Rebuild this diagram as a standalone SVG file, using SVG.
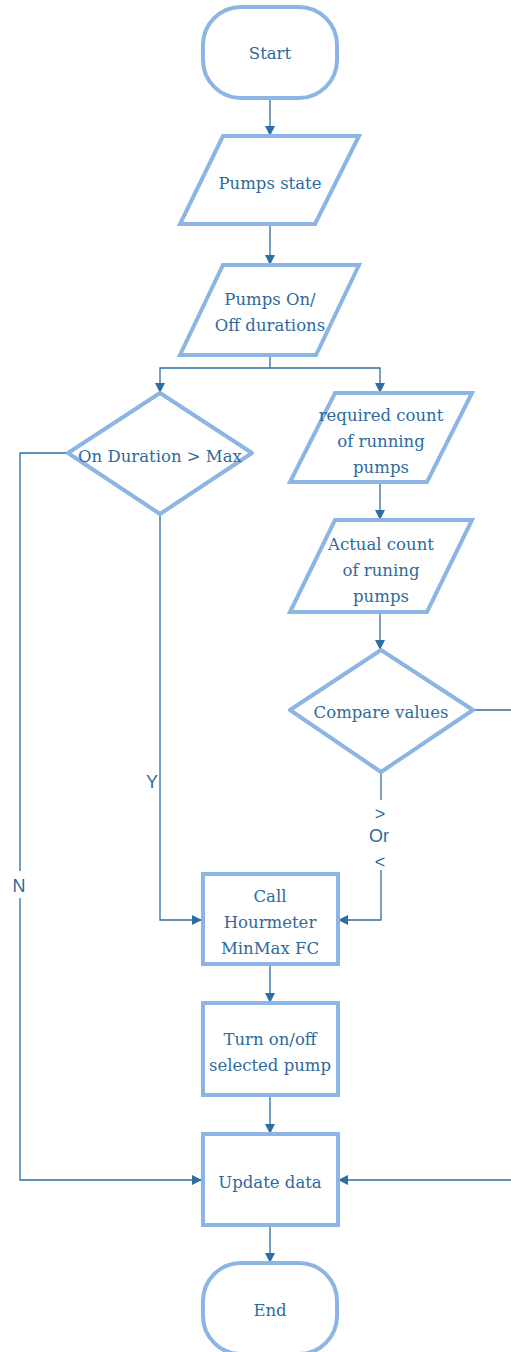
<svg xmlns="http://www.w3.org/2000/svg" width="511" height="1352" viewBox="0 0 511 1352">
  <defs>
    <marker id="arrow" viewBox="0 0 10 10" refX="10" refY="5" markerWidth="10" markerHeight="10" markerUnits="userSpaceOnUse" orient="auto">
      <path d="M0,0 L10,5 L0,10 z" fill="#2E6EA3"/>
    </marker>
    <style>
      .shape { fill: #ffffff; stroke: #8DB5E3; stroke-width: 4; stroke-linejoin: round; }
      .box { fill: #ffffff; stroke: #8DB5E3; stroke-width: 4; stroke-linejoin: miter; }
      .label { font-family: "DejaVu Serif", "Liberation Serif", serif; font-size: 16.5px; fill: #2E6A9C; text-anchor: middle; }
      .edge { fill: none; stroke: #2E6EA3; stroke-width: 1.3; }
      .edge-label { font-family: "Liberation Sans", "DejaVu Sans", sans-serif; font-size: 18px; fill: #2E6A9C; text-anchor: middle; }
    </style>
  </defs>
  <rect width="511" height="1352" fill="#ffffff"/>

  <g id="connectors">
    <path class="edge" d="M270,98 V136" marker-end="url(#arrow)"/>
    <path class="edge" d="M270,224 V265" marker-end="url(#arrow)"/>
    <path class="edge" d="M270,355 V368"/>
    <path class="edge" d="M270,368 H160 V393" marker-end="url(#arrow)"/>
    <path class="edge" d="M270,368 H380 V393" marker-end="url(#arrow)"/>
    <path class="edge" d="M68,453 H20 V871"/>
    <path class="edge" d="M20,898 V1180 H202" marker-end="url(#arrow)"/>
    <path class="edge" d="M160,514 V920 H202" marker-end="url(#arrow)"/>
    <path class="edge" d="M380,482 V520" marker-end="url(#arrow)"/>
    <path class="edge" d="M380,612 V650" marker-end="url(#arrow)"/>
    <path class="edge" d="M381,772 V800"/>
    <path class="edge" d="M381,870 V920 H338" marker-end="url(#arrow)"/>
    <path class="edge" d="M473,710 H520 V1180 H338" marker-end="url(#arrow)"/>
    <path class="edge" d="M270,964 V1003" marker-end="url(#arrow)"/>
    <path class="edge" d="M270,1095 V1134" marker-end="url(#arrow)"/>
    <path class="edge" d="M270,1225 V1263" marker-end="url(#arrow)"/>
    <text class="edge-label" x="152" y="788">Y</text>
    <text class="edge-label" x="19" y="892">N</text>
    <text class="edge-label" x="380" y="820">&gt;</text>
    <text class="edge-label" x="379" y="842">Or</text>
    <text class="edge-label" x="380" y="868">&lt;</text>
  </g>

  <g id="start">
    <rect class="shape" x="203" y="7" width="134" height="91" rx="38" ry="38"/>
    <text class="label" x="270" y="59">Start</text>
  </g>

  <g id="pumps-state">
    <polygon class="box" points="223,136 359,136 315,224 180,224"/>
    <text class="label" x="270" y="189">Pumps state</text>
  </g>

  <g id="pumps-durations">
    <polygon class="box" points="223,265 359,265 316,355 180,355"/>
    <text class="label" x="270" y="305">Pumps On/</text>
    <text class="label" x="270" y="331">Off durations</text>
  </g>

  <g id="on-duration-check">
    <polygon class="shape" points="160,393 252,453 160,514 68,453"/>
    <text class="label" x="160" y="462">On Duration &gt; Max</text>
  </g>

  <g id="required-count">
    <polygon class="box" points="335,393 472,393 427,482 290,482"/>
    <text class="label" x="381" y="421">required count</text>
    <text class="label" x="381" y="447">of running</text>
    <text class="label" x="381" y="473">pumps</text>
  </g>

  <g id="actual-count">
    <polygon class="box" points="335,520 472,520 427,612 290,612"/>
    <text class="label" x="381" y="550">Actual count</text>
    <text class="label" x="381" y="576">of runing</text>
    <text class="label" x="381" y="602">pumps</text>
  </g>

  <g id="compare-values">
    <polygon class="shape" points="381,650 473,710 381,772 290,710"/>
    <text class="label" x="381" y="718">Compare values</text>
  </g>

  <g id="call-hourmeter">
    <rect class="box" x="203" y="874" width="135" height="90"/>
    <text class="label" x="270" y="902">Call</text>
    <text class="label" x="270" y="928">Hourmeter</text>
    <text class="label" x="270" y="954">MinMax FC</text>
  </g>

  <g id="turn-pump">
    <rect class="box" x="203" y="1003" width="135" height="92"/>
    <text class="label" x="270" y="1045">Turn on/off</text>
    <text class="label" x="270" y="1071">selected pump</text>
  </g>

  <g id="update-data">
    <rect class="box" x="203" y="1134" width="135" height="91"/>
    <text class="label" x="270" y="1188">Update data</text>
  </g>

  <g id="end">
    <rect class="shape" x="203" y="1263" width="134" height="91" rx="38" ry="38"/>
    <text class="label" x="270" y="1316">End</text>
  </g>
</svg>
